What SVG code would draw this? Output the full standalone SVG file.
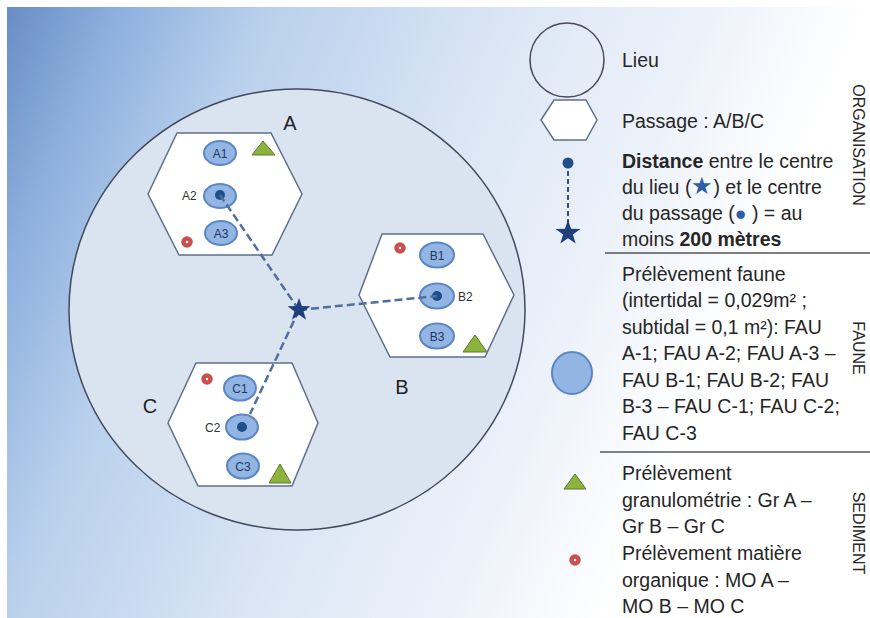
<svg xmlns="http://www.w3.org/2000/svg" width="870" height="618" viewBox="0 0 870 618">
<defs>
<linearGradient id="bg" gradientUnits="userSpaceOnUse" x1="7" y1="7" x2="800" y2="350">
<stop offset="0" stop-color="#6a8cc4"/>
<stop offset="0.12" stop-color="#8db0de"/>
<stop offset="0.27" stop-color="#b8cfec"/>
<stop offset="0.55" stop-color="#dce7f5"/>
<stop offset="0.75" stop-color="#edf2fa"/>
<stop offset="0.92" stop-color="#ffffff"/>
</linearGradient>
<symbol id="star" viewBox="-10 -10 20 20" overflow="visible">
<polygon points="0,-10 2.35,-3.24 9.51,-3.09 3.8,1.24 5.88,8.09 0,4 -5.88,8.09 -3.8,1.24 -9.51,-3.09 -2.35,-3.24"/>
</symbol>
<style>
text{font-family:"Liberation Sans",Arial,sans-serif;fill:#262626}
.hex{fill:#ffffff;stroke:#5f6f8a;stroke-width:1.5}
.smp{fill:#92b5e4;stroke:#5b86c4;stroke-width:2}
.st{font-size:12px;fill:#1f3864;text-anchor:middle}
.lb{font-size:12px;fill:#333333}
.big{font-size:20px;fill:#222222;text-anchor:middle}
.dot{fill:#1f4e8c}
.tri{fill:#8db33f;stroke:#5a7a2a;stroke-width:1}
.mo{fill:#ffffff;stroke:#c9504c;stroke-width:4.5}
.dash{stroke:#4f6f9f;stroke-width:2.5;stroke-dasharray:8 4;fill:none}
.lg{font-size:19.5px}
.side{font-size:16px;text-anchor:middle}
.sep{stroke:#555555;stroke-width:1.5}
</style>
</defs>
<rect x="0" y="0" width="870" height="618" fill="#ffffff"/>
<rect x="7" y="7" width="863" height="611" fill="url(#bg)"/>

<g id="lieu">
<ellipse cx="297" cy="309.5" rx="228" ry="220.5" fill="#dae3f0" stroke="#3f4a5c" stroke-width="1.5"/>
<text class="big" x="290" y="130">A</text>
<text class="big" x="402" y="394">B</text>
<text class="big" x="150" y="413">C</text>
</g>

<g id="passage-A">
<polygon class="hex" points="148,194 177,133 271,133 302,194 272,255 179,255"/>
<ellipse class="smp" cx="220" cy="153" rx="16" ry="12"/>
<text class="st" x="220" y="157.5">A1</text>
<ellipse class="smp" cx="220" cy="196" rx="16" ry="12"/>
<circle class="dot" cx="220" cy="195" r="5"/>
<text class="lb" x="182" y="200">A2</text>
<ellipse class="smp" cx="221" cy="233" rx="16" ry="12"/>
<text class="st" x="221" y="237.5">A3</text>
<polygon class="tri" points="263,141 252,155 275,155"/>
<circle class="mo" cx="187" cy="242" r="3.5"/>
</g>

<g id="passage-B">
<polygon class="hex" points="359,295 382,234 483,234 514,295 485,357 390,357"/>
<ellipse class="smp" cx="437" cy="255" rx="17" ry="12.5"/>
<text class="st" x="437" y="259.5">B1</text>
<ellipse class="smp" cx="437" cy="296" rx="17" ry="12.5"/>
<circle class="dot" cx="437" cy="296" r="5"/>
<text class="lb" x="458" y="301">B2</text>
<ellipse class="smp" cx="437" cy="336" rx="17" ry="12.5"/>
<text class="st" x="437" y="340.5">B3</text>
<polygon class="tri" points="475,335 463,352 487,352"/>
<circle class="mo" cx="400" cy="248" r="3.5"/>
</g>

<g id="passage-C">
<polygon class="hex" points="168,423 196,363 292,363 318,423 292,486 198,486"/>
<ellipse class="smp" cx="240" cy="388" rx="16" ry="12.5"/>
<text class="st" x="240" y="392.5">C1</text>
<ellipse class="smp" cx="242" cy="427" rx="16" ry="12.5"/>
<circle class="dot" cx="242" cy="427" r="5"/>
<text class="lb" x="205" y="432">C2</text>
<ellipse class="smp" cx="243" cy="466" rx="16" ry="12.5"/>
<text class="st" x="243" y="470.5">C3</text>
<polygon class="tri" points="280,464 269,483 291,483"/>
<circle class="mo" cx="207" cy="379" r="3.5"/>
</g>

<g id="connectors">
<line class="dash" x1="299" y1="310" x2="220" y2="195"/>
<line class="dash" x1="299" y1="310" x2="437" y2="296"/>
<line class="dash" x1="299" y1="310" x2="250" y2="414"/>
</g>

<g id="centre">
<use href="#star" x="287" y="298" width="24" height="24" fill="#1f3f7a"/>
</g>

<g id="legend-organisation">
<circle cx="567" cy="60" r="37" fill="none" stroke="#4a4a5a" stroke-width="1.5"/>
<text class="lg" x="622" y="67">Lieu</text>
<polygon class="hex" points="541,120 554,100 586,100 597,120 586,140 554,140"/>
<text class="lg" x="622" y="128">Passage : A/B/C</text>
<line x1="568" y1="163" x2="568" y2="230" stroke="#2f528f" stroke-width="2" stroke-dasharray="5 3"/>
<circle cx="568" cy="163" r="5.5" fill="#1f4e8c"/>
<use href="#star" x="555" y="220" width="26" height="26" fill="#1f3f7a"/>
<text class="lg" x="622" y="168"><tspan font-weight="bold">Distance</tspan> entre le centre</text>
<text class="lg" x="622" y="194">du lieu (<tspan fill="#2e5ea6" font-size="24px">★</tspan>) et le centre</text>
<text class="lg" x="622" y="220">du passage (<tspan fill="#2e5ea6">●</tspan> ) = au</text>
<text class="lg" x="622" y="246">moins <tspan font-weight="bold">200 mètres</tspan></text>
<text class="side" transform="translate(853,145) rotate(90)">ORGANISATION</text>
<line class="sep" x1="605" y1="253" x2="870" y2="253"/>
</g>

<g id="legend-faune">
<ellipse class="smp" cx="572" cy="373" rx="20" ry="21" stroke-width="1.5"/>
<text class="lg" x="622" y="281">Prélèvement faune</text>
<text class="lg" x="622" y="307">(intertidal = 0,029m² ;</text>
<text class="lg" x="622" y="334">subtidal = 0,1 m²): FAU</text>
<text class="lg" x="622" y="360">A-1; FAU A-2; FAU A-3 –</text>
<text class="lg" x="622" y="387">FAU B-1; FAU B-2; FAU</text>
<text class="lg" x="622" y="413">B-3 – FAU C-1; FAU C-2;</text>
<text class="lg" x="622" y="440">FAU C-3</text>
<text class="side" transform="translate(853,348) rotate(90)">FAUNE</text>
<line class="sep" x1="600" y1="452" x2="870" y2="452"/>
</g>

<g id="legend-sediment">
<polygon class="tri" points="575,474 564,489 586,489"/>
<circle class="mo" cx="575" cy="560" r="3.5"/>
<text class="lg" x="622" y="480">Prélèvement</text>
<text class="lg" x="622" y="507">granulométrie : Gr A –</text>
<text class="lg" x="622" y="533">Gr B – Gr C</text>
<text class="lg" x="622" y="560">Prélèvement matière</text>
<text class="lg" x="622" y="587">organique : MO A –</text>
<text class="lg" x="622" y="613">MO B – MO C</text>
<text class="side" transform="translate(853,533) rotate(90)">SEDIMENT</text>
</g>
</svg>
